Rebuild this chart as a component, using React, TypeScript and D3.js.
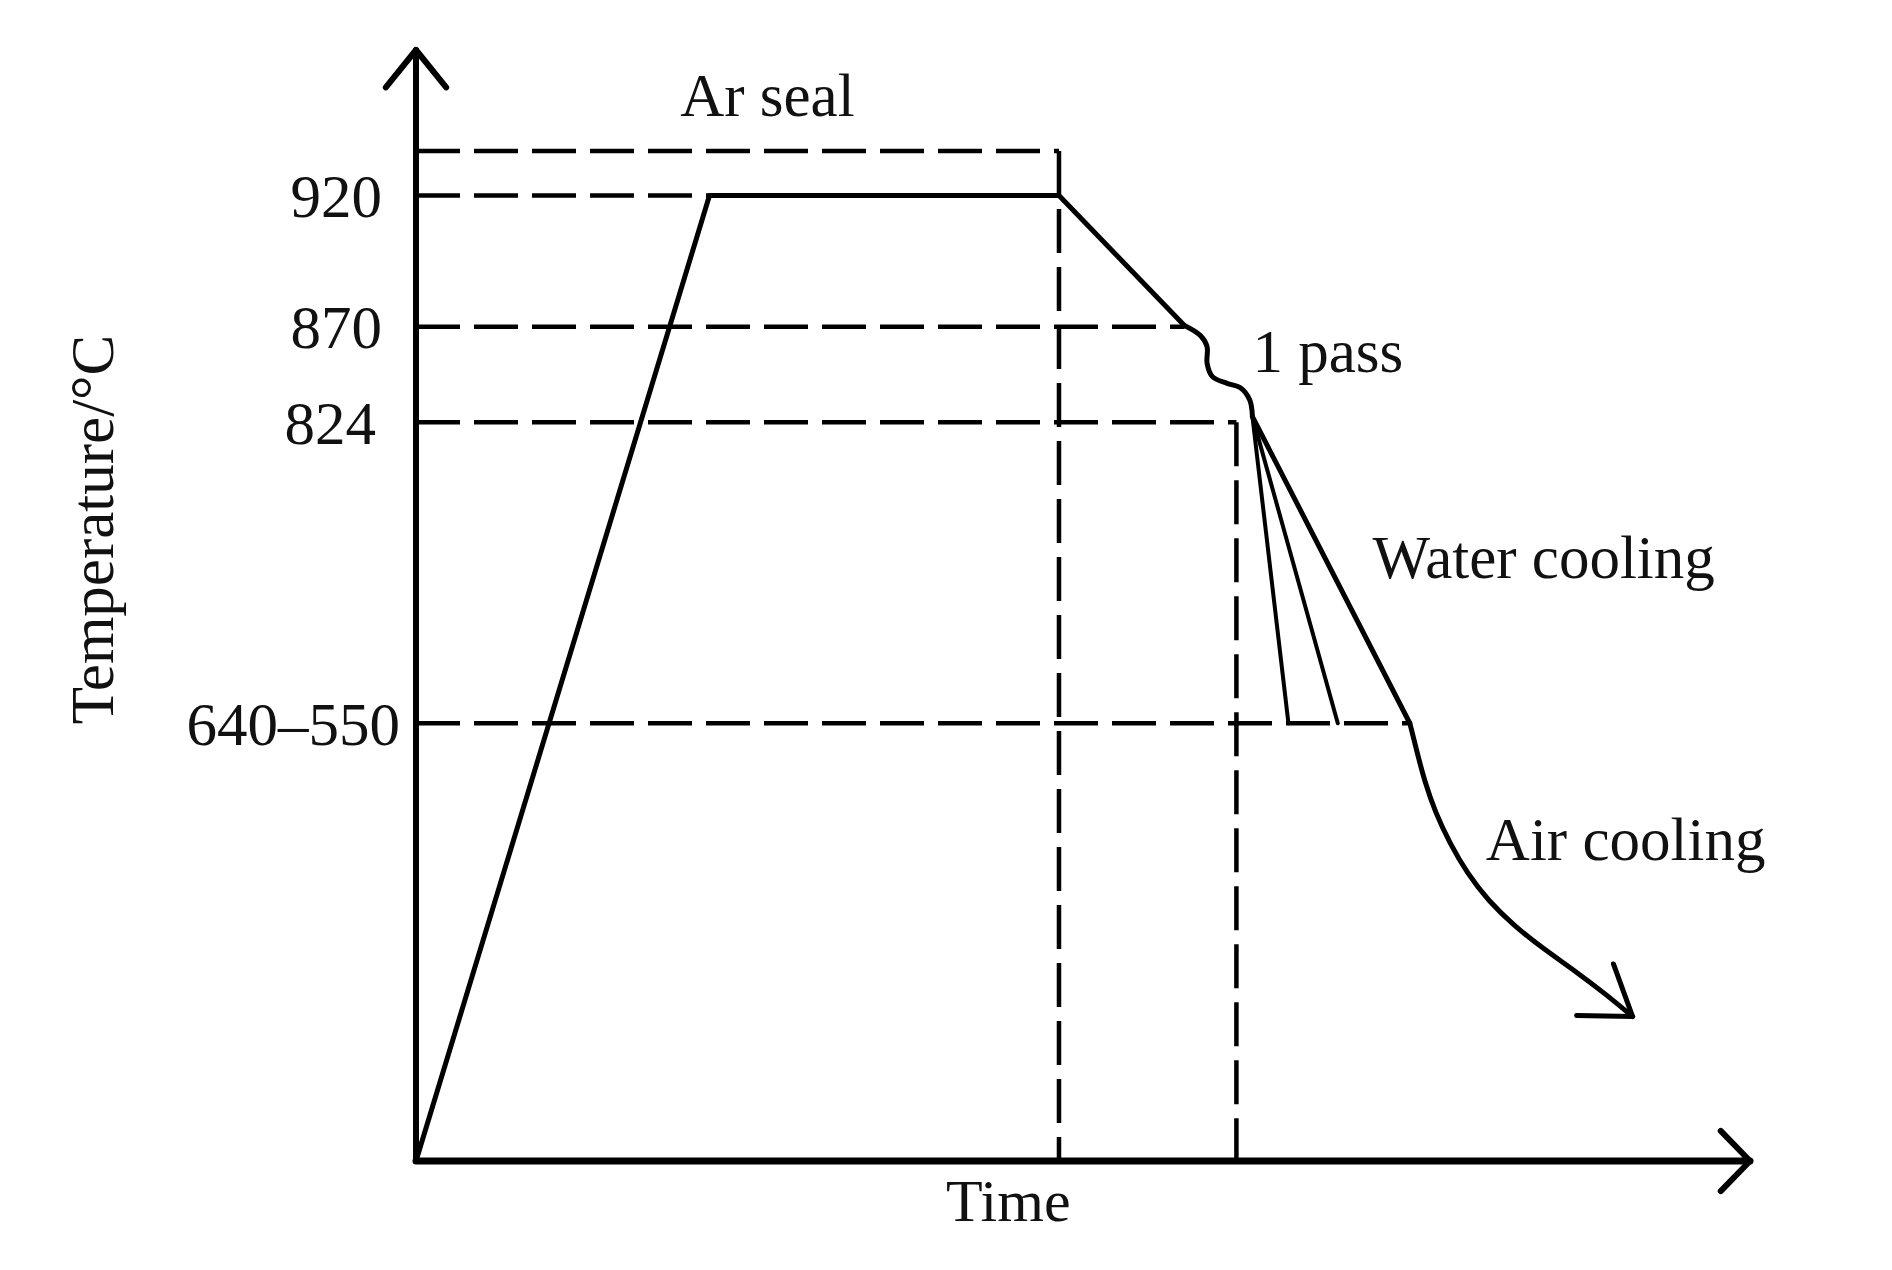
import React from 'react';
import * as d3 from 'd3';

const W = 1892;
const H = 1270;

// Schematic units (0..100) on both axes
const tempLevels = ['920', '870', '824', '640–550'];
const tempLevelValues = [86.9, 75.1, 66.5, 39.4];
const tempLevelEnds = [22.0, 57.6, 61.5, 74.5]; // time where the curve meets the level
const arSealLevel = 90.9;
const arSealEndTime = 48.2;
const rollEndTime = 61.5;

const heatingHold: [number, number][] = [[0, 0], [22.0, 86.9], [48.2, 86.9], [57.6, 75.2]];
const passWave: [number, number][] = [
  [57.6, 75.2], [58.8, 74.3], [59.3, 73.3], [59.3, 71.8], [59.7, 70.6],
  [60.8, 70.0], [61.8, 69.6], [62.5, 68.5], [62.7, 67.0],
];
const waterMain: [number, number][] = [[62.7, 67.0], [74.5, 39.4]];
const waterFan: [number, number][][] = [
  [[62.7, 67.0], [65.4, 39.4]],
  [[62.7, 67.0], [69.1, 39.4]],
];
const airCooling: [number, number][] = [
  [74.5, 39.4], [75.0, 37.0], [75.6, 34.2], [76.4, 31.4], [77.5, 28.6],
  [78.8, 25.9], [80.4, 23.4], [82.3, 21.2], [84.5, 19.1], [86.9, 17.1],
  [89.2, 15.0], [91.2, 13.0],
];

const FONT = '"Liberation Serif", "Times New Roman", serif';

export default function App() {
  const x = d3.scaleLinear().domain([0, 100]).range([416, 1750]);
  const y = d3.scaleLinear().domain([0, 100]).range([1161, 50]);

  const straight = d3.line<[number, number]>().x((d) => x(d[0])).y((d) => y(d[1]));
  const smooth = d3
    .line<[number, number]>()
    .x((d) => x(d[0]))
    .y((d) => y(d[1]))
    .curve(d3.curveCatmullRom.alpha(0.5));
  const smoother = d3
    .line<[number, number]>()
    .x((d) => x(d[0]))
    .y((d) => y(d[1]))
    .curve(d3.curveBasis);

  const dash = '44 14';
  const axisW = 6;

  const chevron = (tx: number, ty: number, ang: number, len: number, spread: number) => {
    const back = ang + Math.PI;
    const a1 = back + spread;
    const a2 = back - spread;
    return `M${tx + len * Math.cos(a1)},${ty + len * Math.sin(a1)}L${tx},${ty}L${tx + len * Math.cos(a2)},${ty + len * Math.sin(a2)}`;
  };

  const last = airCooling[airCooling.length - 1];
  const prev = airCooling[airCooling.length - 3];
  const tipX = x(last[0]);
  const tipY = y(last[1]);
  const airAng = Math.atan2(tipY - y(prev[1]), tipX - x(prev[0])) - 0.05;

  const labelDx = [0, 0, -6, 18];

  return (
    <svg
      width={W}
      height={H}
      style={{ position: 'absolute', left: 0, top: 0, background: '#fff' }}
      fontFamily={FONT}
    >
      <rect width={W} height={H} fill="#fff" />

      {/* dashed guides */}
      <g stroke="#000" strokeWidth={4.5} strokeDasharray={dash} fill="none">
        <line x1={x(0)} x2={x(arSealEndTime)} y1={y(arSealLevel)} y2={y(arSealLevel)} />
        <line x1={x(arSealEndTime)} x2={x(arSealEndTime)} y1={y(arSealLevel)} y2={y(0)} />
        {tempLevelValues.map((v, i) => (
          <line key={i} x1={x(0)} x2={x(tempLevelEnds[i])} y1={y(v)} y2={y(v)} />
        ))}
        <line x1={x(rollEndTime)} x2={x(rollEndTime)} y1={y(tempLevelValues[2])} y2={y(0)} />
      </g>

      {/* axes */}
      <g stroke="#000" fill="none" strokeLinecap="round" strokeLinejoin="round">
        <line x1={x(0)} x2={x(0)} y1={y(0)} y2={y(100)} strokeWidth={axisW} />
        <line x1={x(0)} x2={x(100)} y1={y(0)} y2={y(0)} strokeWidth={axisW + 1} />
        <path d={chevron(x(0), y(100), -Math.PI / 2, 48, 0.68)} strokeWidth={axisW} />
        <path d={chevron(x(100), y(0), 0, 42, 0.8)} strokeWidth={axisW} />
      </g>

      {/* process curve */}
      <g stroke="#000" fill="none" strokeLinecap="round" strokeLinejoin="round">
        <path d={straight(heatingHold) || ''} strokeWidth={5} />
        <path d={smooth(passWave) || ''} strokeWidth={5} />
        <path d={straight(waterMain) || ''} strokeWidth={5} />
        {waterFan.map((f, i) => (
          <path key={i} d={straight(f) || ''} strokeWidth={4} />
        ))}
        <path d={smoother(airCooling) || ''} strokeWidth={5} />
        <path d={chevron(tipX, tipY, airAng, 56, 0.6)} strokeWidth={5} />
      </g>

      {/* tick labels */}
      <g fontSize={61} fill="#111" textAnchor="end">
        {tempLevels.map((t, i) => (
          <text key={t} x={382 + labelDx[i]} y={y(tempLevelValues[i])} dy="0.35em">
            {t}
          </text>
        ))}
      </g>

      {/* axis titles */}
      <text
        transform={`translate(113, ${(y(0) + y(100)) / 2 - 76}) rotate(-90)`}
        textAnchor="middle"
        fontSize={61}
        fill="#111"
      >
        Temperature/°C
      </text>
      <text x={x(44.4)} y={1221} textAnchor="middle" fontSize={60} fill="#111">
        Time
      </text>

      {/* annotations */}
      <g fontSize={61} fill="#111">
        <text x={x(19.8)} y={y(94.1)}>Ar seal</text>
        <text x={x(62.7)} y={y(71.0)}>1 pass</text>
        <text x={x(71.7)} y={y(52.5)}>Water cooling</text>
        <text x={x(80.2)} y={y(27.1)}>Air cooling</text>
      </g>
    </svg>
  );
}
